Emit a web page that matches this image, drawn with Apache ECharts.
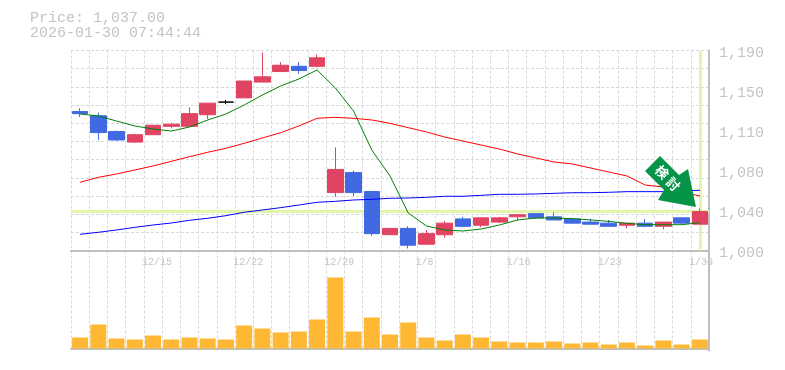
<!DOCTYPE html>
<html><head><meta charset="utf-8">
<style>html,body{margin:0;padding:0;background:#fff}#c{width:785px;height:370px}</style>
<script src="https://cdn.jsdelivr.net/npm/echarts@6/dist/echarts.min.js"></script>
</head><body><div id="c"></div>
<script>
const categories=['12/9','12/10','12/11','12/12','12/15','12/16','12/17','12/18','12/19','12/22','12/23','12/24','12/25','12/26','12/29','12/30','1/5','1/6','1/7','1/8','1/9','1/13','1/14','1/15','1/16','1/19','1/20','1/21','1/22','1/23','1/26','1/27','1/28','1/29','1/30'];
const opens =[1132,1128,1113,1103,1110,1118,1118,1129,1141,1145,1160,1170,1175,1175,1055,1074,1056,1015,1021,1006,1015,1030,1024,1027,1032,1035,1032,1030,1027,1026,1024,1026,1023,1031,1025];
const closes=[1130,1112,1105,1110,1119,1120,1130,1140,1141,1161,1165,1176,1171,1183,1077,1055,1016,1021,1005,1016,1026,1023,1031,1031,1034,1031,1029,1026,1025,1023,1026,1023,1027,1026,1037];
const lows  =[1127,1105,1104,1102,1110,1116,1118,1125,1139,1145,1160,1170,1168,1174,1051,1052,1014,1015,1002,1006,1012,1022,1022,1026,1028,1030,1029,1026,1025,1023,1021,1022,1020,1025,1025];
const highs =[1135,1131,1114,1111,1119,1121,1136,1140,1143,1161,1188,1179,1179,1186,1098,1076,1056,1021,1023,1019.5,1028,1032,1031,1032,1034,1035,1036,1031,1030,1029,1026,1030,1027,1031,1040];
const maShort=[1129.7,1127.8,1123,1118.3,1115.4,1113.5,1117.3,1124,1129.7,1138.2,1147.7,1156.3,1162.9,1171.5,1154.4,1132.5,1095.5,1070.8,1035.6,1023.3,1019.5,1018.5,1020.4,1024.2,1029,1030.9,1030.9,1030.2,1029,1027.7,1025.8,1024.5,1024.5,1024.5,1026.4];
const maMid=[1064.8,1069.5,1072.7,1076.5,1080.3,1084.7,1089.1,1093.3,1097.1,1101.8,1106.9,1111.9,1118.3,1125.6,1126.5,1125.6,1124,1120.8,1116.7,1112.6,1107.8,1104,1100.2,1096.4,1091.7,1087.9,1084.1,1082.2,1078.4,1074.6,1070.8,1062.2,1060.3,1055.6,1051.8];
const maLong=[1015.4,1017.3,1019.5,1022,1024.2,1026.1,1028.7,1030.6,1033.1,1036.3,1038.5,1040.7,1043.2,1045.8,1046.7,1048,1048.6,1049.6,1049.9,1050.5,1051.5,1051.5,1052.4,1053.4,1053.4,1053.7,1054.3,1054.9,1054.9,1055.3,1055.9,1055.9,1055.9,1056.8,1057.2];
const volumes=[11,24,10,9,13,9,11,10,9,23,20,16,17,29,71,17,31,14,26,11,8,14,11,7,6,6,7,5,6,4,6,3,8,4,9];
const priceTicks=[1000,1038,1076,1114,1152,1190];
const currentPrice=1037;
const titleLines=['Price: 1,037.00','2026-01-30 07:44:44'];
const signalText='検討';

const GREY='#c4c4c4',GRID='#d9d9d9',MONO='"Liberation Mono","DejaVu Sans Mono",monospace';
const UP='#e04462',DOWN='#4169e1',HL='#e2f5a8';
const chart=echarts.init(document.getElementById('c'),null,{renderer:'canvas'});
const gridLine={show:true,lineStyle:{color:GRID,type:[3,2],width:1}};
const mono=(size)=>({color:GREY,fontFamily:MONO,fontSize:size});
const maSeries=(data,color)=>({type:'line',data,xAxisIndex:0,yAxisIndex:0,symbol:'none',z:4,silent:true,animation:false,lineStyle:{color,width:1}});
chart.setOption({
 animation:false,
 grid:[{left:71,width:638,top:50.5,height:200},{left:71,width:638,top:250.5,height:100}],
 xAxis:[
  {type:'category',gridIndex:0,data:categories,boundaryGap:true,
   axisLine:{show:true,lineStyle:{color:'#bfbfbf',width:2}},axisTick:{show:false},
   splitLine:Object.assign({interval:0},gridLine),
   axisLabel:Object.assign({interval:(i)=>i%5===4,margin:7,align:'left',padding:[0,0,0,-11],hideOverlap:false},mono(10))},
  {type:'category',gridIndex:1,data:categories,boundaryGap:true,
   axisLine:{show:true,lineStyle:{color:'#bfbfbf',width:2}},axisTick:{show:false},
   splitLine:Object.assign({interval:0},gridLine),axisLabel:{show:false}}
 ],
 yAxis:[
  {type:'value',gridIndex:0,position:'right',min:1000,max:1190,scale:true,
   axisLine:{show:true,lineStyle:{color:'#bfbfbf',width:2}},axisTick:{show:false},splitLine:{show:false},
   axisLabel:Object.assign({customValues:priceTicks,margin:10,verticalAlign:'top',padding:[-5,0,0,0],
     formatter:(v)=>(Math.round(v/10)*10).toLocaleString('en-US')},mono(15))},
  {type:'value',gridIndex:0,position:'right',min:0,max:11,interval:1,
   axisLine:{show:false},axisTick:{show:false},axisLabel:{show:false},splitLine:gridLine},
  {type:'value',gridIndex:1,position:'right',min:-2,max:98,
   axisLine:{show:true,lineStyle:{color:'#bfbfbf',width:2}},axisTick:{show:false},axisLabel:{show:false},splitLine:{show:false}}
 ],
 graphic:[
  {type:'text',left:30,top:11,z:20,style:{text:titleLines[0],fill:GREY,font:'15px '+MONO}},
  {type:'text',left:30,top:26,z:20,style:{text:titleLines[1],fill:GREY,font:'15px '+MONO}},
  {type:'polygon',z:20,shape:{points:[[660,156],[679,175],[688,169],[696,207],[658,200],[664,190],[645,171]]},style:{fill:'#069548'}},
  {type:'text',z:21,x:662,y:172,rotation:-Math.PI/4,style:{text:signalText[0],fill:'#fff',font:'bold 13px "Noto Sans CJK JP"',align:'center',verticalAlign:'middle'}},
  {type:'text',z:21,x:673,y:184,rotation:-Math.PI/4,style:{text:signalText[1],fill:'#fff',font:'bold 13px "Noto Sans CJK JP"',align:'center',verticalAlign:'middle'}}
 ],
 series:[
  {type:'line',data:[],xAxisIndex:0,yAxisIndex:0,z:1,silent:true,
   markLine:{z:1,silent:true,symbol:'none',label:{show:false},animation:false,lineStyle:{color:HL,width:3,type:'solid'},
    data:[{yAxis:currentPrice},{xAxis:categories[categories.length-1]}]}},
  {type:'candlestick',data:categories.map((_,i)=>[opens[i],closes[i],lows[i],highs[i]]),xAxisIndex:0,yAxisIndex:0,z:3,barWidth:16,
   itemStyle:{color:UP,color0:DOWN,borderColor:UP,borderColor0:DOWN,borderColorDoji:'#000',borderWidth:1}},
  maSeries(maShort,'#008000'),maSeries(maMid,'#ff0000'),maSeries(maLong,'#0000ff'),
  {type:'bar',data:volumes,xAxisIndex:1,yAxisIndex:2,barWidth:16,z:3,itemStyle:{color:'#ffb833'}}
 ]
});
</script></body></html>
